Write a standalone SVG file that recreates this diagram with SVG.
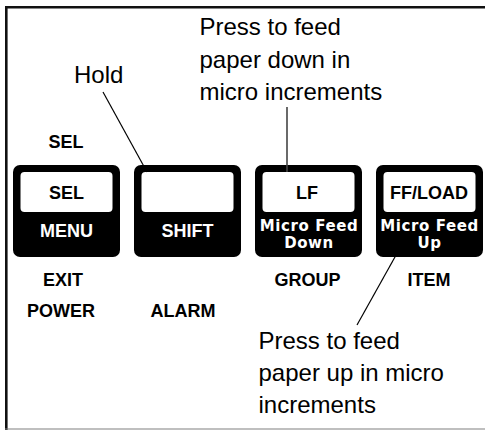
<svg xmlns="http://www.w3.org/2000/svg" width="485" height="430" viewBox="0 0 485 430">
<style>
.btn{fill:#000}
.face{fill:#fff}
.cap{font-family:"Liberation Sans",Arial,sans-serif;font-weight:bold;font-size:18px;text-anchor:middle;fill:#000}
.w{fill:#fff}
.mf{font-family:"DejaVu Sans",sans-serif;font-weight:bold;font-size:15px;letter-spacing:0.6px;text-anchor:middle;fill:#fff}
.note{font-family:"Liberation Sans",Arial,sans-serif;font-size:24px;fill:#000}
.ln{stroke:#000;stroke-width:1.2;fill:none}
</style>
<rect x="0" y="0" width="485" height="430" fill="#fff"/>
<g id="frame">
<line x1="6.3" y1="6" x2="6.3" y2="430" stroke="#111" stroke-width="2.6"/>
<line x1="5" y1="7.3" x2="485" y2="7.3" stroke="#111" stroke-width="2.6"/>
<line x1="5" y1="429" x2="485" y2="429" stroke="#808080" stroke-width="1.2"/>
</g>
<g id="sel-label"><text class="cap" x="66" y="148">SEL</text></g>
<g id="btn-sel">
<rect class="btn" x="13" y="165" width="107" height="92" rx="7"/>
<rect class="face" x="20.5" y="172" width="92" height="40" rx="4"/>
<text class="cap" x="66.5" y="198.5">SEL</text>
<text class="cap w" x="66.5" y="237">MENU</text>
</g>
<g id="btn-shift">
<rect class="btn" x="134" y="165" width="107" height="92" rx="7"/>
<rect class="face" x="141.5" y="172" width="92" height="40" rx="4"/>
<text class="cap w" x="187.5" y="237">SHIFT</text>
</g>
<g id="btn-lf">
<rect class="btn" x="255" y="165" width="107" height="92" rx="7"/>
<rect class="face" x="262.5" y="172" width="92" height="40" rx="4"/>
<text class="cap" x="307" y="198.5">LF</text>
<text class="mf" x="309" y="230.5">Micro Feed</text>
<text class="mf" x="309" y="248">Down</text>
</g>
<g id="btn-ff">
<rect class="btn" x="376" y="165" width="107" height="92" rx="7"/>
<rect class="face" x="383.5" y="172" width="92" height="40" rx="4"/>
<text class="cap" x="429" y="198.5">FF/LOAD</text>
<text class="mf" x="429.5" y="230.5">Micro Feed</text>
<text class="mf" x="429.5" y="248">Up</text>
</g>
<g id="lower-labels">
<text class="cap" x="63" y="285.5">EXIT</text>
<text class="cap" x="61" y="317">POWER</text>
<text class="cap" x="183" y="317">ALARM</text>
<text class="cap" x="307.5" y="285.5">GROUP</text>
<text class="cap" x="429" y="285.5">ITEM</text>
</g>
<g id="notes">
<text class="note" x="74" y="83">Hold</text>
<text class="note" x="199.5" y="34.5">Press to feed</text>
<text class="note" x="199.5" y="67.5">paper down in</text>
<text class="note" x="199.5" y="100">micro increments</text>
<text class="note" x="258.5" y="348.5">Press to feed</text>
<text class="note" x="258.5" y="380.5">paper up in micro</text>
<text class="note" x="258.5" y="412.5">increments</text>
</g>
<g id="connectors">
<line class="ln" x1="103" y1="92" x2="147" y2="172"/>
<line x1="287" y1="107" x2="287" y2="172" stroke="#444" stroke-width="1.6"/>
<line class="ln" x1="400" y1="248" x2="357" y2="325"/>
</g>
</svg>
